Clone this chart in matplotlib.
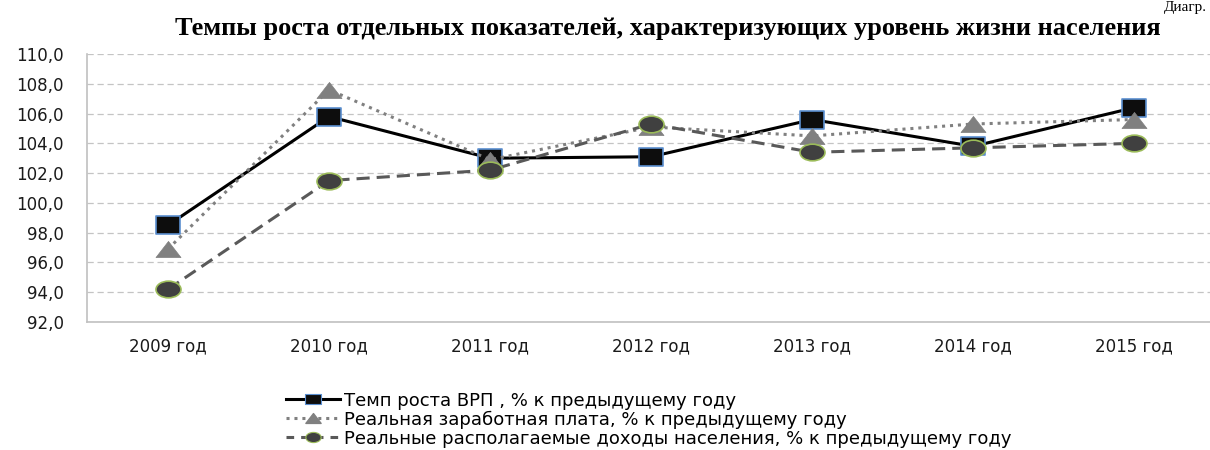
import numpy as np
import matplotlib
matplotlib.use('Agg')
import matplotlib.pyplot as plt
from matplotlib.path import Path
from matplotlib.transforms import Affine2D
from matplotlib.lines import Line2D

# data
years = ['2009 год', '2010 год', '2011 год', '2012 год', '2013 год', '2014 год', '2015 год']
grp = [98.5, 105.8, 103.0, 103.1, 105.6, 103.8, 106.4]
wages = [96.9, 107.6, 102.9, 105.1, 104.5, 105.3, 105.6]
incomes = [94.2, 101.5, 102.2, 105.3, 103.4, 103.7, 104.0]

labels = ['Темп роста ВРП , % к предыдущему году',
          'Реальная заработная плата, % к предыдущему году',
          'Реальные располагаемые доходы населения, % к предыдущему году']

title = 'Темпы роста отдельных показателей, характеризующих уровень жизни населения'

# wide markers (the original picture is stretched horizontally)
sq = Path([(-1.47, -1), (1.47, -1), (1.47, 1), (-1.47, 1), (-1.47, -1)],
          [Path.MOVETO, Path.LINETO, Path.LINETO, Path.LINETO, Path.CLOSEPOLY])
tri = Path([(-1.55, -1), (1.55, -1), (0, 1), (-1.55, -1)],
           [Path.MOVETO, Path.LINETO, Path.LINETO, Path.CLOSEPOLY])
ell = Affine2D().scale(1.5, 1).transform_path(Path.unit_circle())

tick_font = 'DejaVu Sans'

fig = plt.figure(figsize=(12.1, 4.5), dpi=100)
ax = fig.add_axes([0.0723, 0.2844, 0.9277, 0.5956])

x = np.arange(len(years))
styles = [
    dict(color='black', lw=2.2, ls='-', marker=sq, ms=18, mfc='#0d0d0d', mec='#5b8fd0', mew=1.2),
    dict(color='#808080', lw=2.2, ls=(0, (1, 1.6)), marker=tri, ms=18, mfc='#808080', mec='#808080', mew=0.5),
    dict(color='#595959', lw=2.2, ls=(0, (4.3, 2.3)), marker=ell, ms=18, mfc='#404040', mec='#9bbb59', mew=1.2),
]
for i, (vals, st) in enumerate(zip([grp, wages, incomes], styles)):
    ax.plot(x, vals, zorder=3 + i, solid_capstyle='butt', dash_capstyle='butt', **st)

ax.set_xlim(-0.5, 6.47)
ax.set_ylim(92, 110)
ax.set_yticks(np.arange(92, 110.1, 2))
ax.set_yticklabels([f'{v:.1f}'.replace('.', ',') for v in np.arange(92, 110.1, 2)],
                   fontsize=12, family=tick_font, color='#1a1a1a')
ax.set_xticks(x)
ax.set_xticklabels(years, fontsize=12, family=tick_font, color='#1a1a1a')
ax.tick_params(axis='y', length=0, pad=17)
ax.tick_params(axis='x', length=0, pad=11)

ax.yaxis.grid(True, color='#c4c4c4', ls=(0, (5, 3)), lw=0.9)
ax.set_axisbelow(True)
for s in ['top', 'right']:
    ax.spines[s].set_visible(False)
for s in ['left', 'bottom']:
    ax.spines[s].set_color('#c0c0c0')
    ax.spines[s].set_linewidth(1.2)

fig.text(0.552, 0.937, title, ha='center', va='center', fontsize=19,
         family='Liberation Serif', weight='bold')
fig.text(0.962, 0.975, 'Диагр.', ha='left', va='baseline', fontsize=11,
         family='Liberation Serif')

handles = [
    Line2D([], [], color='black', lw=2.2, ls='-', marker=sq, ms=11, mfc='#0d0d0d', mec='#5b8fd0', mew=0.8),
    Line2D([], [], color='#808080', lw=2.2, ls=(0, (1, 1.6)), marker=tri, ms=11, mfc='#808080', mec='#808080'),
    Line2D([], [], color='#595959', lw=2.2, ls=(0, (2.5, 2.3)), marker=ell, ms=11, mfc='#404040', mec='#9bbb59', mew=0.8),
]
fig.legend(handles, labels, loc='upper left', bbox_to_anchor=(0.236, 0.13),
           frameon=False, prop={'family': tick_font, 'size': 13},
           handlelength=3.0, handletextpad=0.25, labelspacing=0.05, borderaxespad=0,
           borderpad=0)

fig.savefig('out.png', dpi=100)
